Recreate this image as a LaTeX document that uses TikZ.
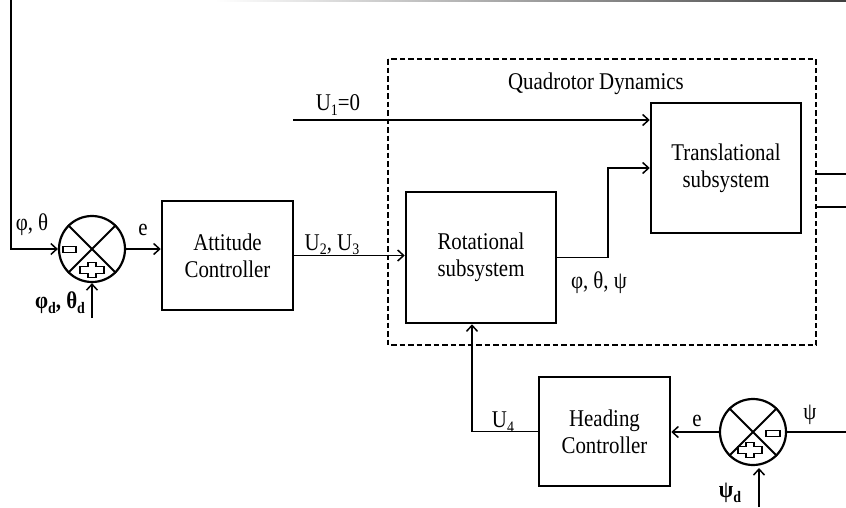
\documentclass[tikz,border=0pt]{standalone}
\usepackage{fontspec}
\setmainfont[FakeStretch=0.87]{Liberation Serif}
\usetikzlibrary{arrows.meta}
\newcommand\sbs[1]{\raisebox{-0.4ex}{\fontsize{16}{16}\selectfont #1}}
\newcommand\sbsb[1]{\raisebox{-0.4ex}{\fontsize{16}{16}\selectfont\bfseries #1}}
\begin{document}
\begin{tikzpicture}[x=1pt,y=-1pt,
  font=\fontsize{24}{27}\selectfont,
  blk/.style={draw,line width=2.5pt,rectangle,align=center,inner sep=0pt},
  sumj/.style={draw,line width=2.2pt,circle,minimum size=66pt,inner sep=0pt},
  arr/.style={line width=1.6pt,-{Straight Barb[length=6pt,width=11pt,line width=1.5pt]}},
  ln/.style={line width=1.6pt},
  sym/.style={line width=1.9pt},
  lbl/.style={inner sep=0pt}]
\useasboundingbox (0,0) rectangle (846,507);
\shade[left color=white,right color=black!75] (215,0) rectangle (846,1.6);
% dashed frame
\draw[line width=1.8pt,dash pattern=on 5.5pt off 3pt] (388,59) rectangle (816,345);
\node[lbl] (qd) at (596,84) {Quadrotor Dynamics};
% blocks
\node[sumj] (s1) at (92,249) {};
\node[blk,minimum width=131pt,minimum height=109pt] (att) at (227.5,255.5) {Attitude\\Controller};
\node[blk,minimum width=150pt,minimum height=131pt] (rot) at (481,257.5) {Rotational\\subsystem};
\node[blk,minimum width=150pt,minimum height=130pt] (tra) at (726,168) {Translational\\subsystem};
\node[blk,minimum width=131pt,minimum height=109pt] (head) at (604.5,431.5) {Heading\\Controller};
\node[sumj] (s2) at (753,432) {};
% sum junction crosses
\draw[line width=2pt] (s1.north west) -- (s1.south east) (s1.north east) -- (s1.south west);
\draw[line width=2pt] (s2.north west) -- (s2.south east) (s2.north east) -- (s2.south west);
% minus / plus signs
\draw[sym] (63,246.5) rectangle (76,252.5);
\begin{scope}[shift={(92,270)}]
\draw[sym] (-4,-7.5) -- (4,-7.5) -- (4,-3.5) -- (12,-3.5) -- (12,3.5) -- (4,3.5) -- (4,7.5) -- (-4,7.5) -- (-4,3.5) -- (-12,3.5) -- (-12,-3.5) -- (-4,-3.5) -- cycle;
\end{scope}
\draw[sym] (766,430.5) rectangle (780,436.5);
\begin{scope}[shift={(750,450)}]
\draw[sym] (-4,-7.5) -- (4,-7.5) -- (4,-3.5) -- (12,-3.5) -- (12,3.5) -- (4,3.5) -- (4,7.5) -- (-4,7.5) -- (-4,3.5) -- (-12,3.5) -- (-12,-3.5) -- (-4,-3.5) -- cycle;
\end{scope}
% coordinates
\coordinate (fbtop) at (11,0);
\coordinate (phid) at (92,318);
\coordinate (u1s) at (293,120);
\coordinate (psin) at (846,432);
\coordinate (psid) at (759,507);
\coordinate (psidt) at (759,468);
\coordinate (o1a) at (816,174);
\coordinate (o1b) at (846,174);
\coordinate (o2a) at (816,207);
\coordinate (o2b) at (846,207);
% connectors
\draw[arr] (fbtop) |- (s1.west);
\draw[arr] (phid) -- (s1.south);
\draw[arr] (s1.east) -- (s1.east -| att.west);
\draw[arr] (att.east) -- (att.east -| rot.west);
\draw[arr] (u1s) -- (u1s -| tra.west);
\draw[arr] (rot.east) -- ++(51,0) |- (tra.west);
\draw[arr] (s2.west) -- (s2.west -| head.east);
\draw[arr] (head.west) -| ([xshift=-9pt]rot.south);
\draw[ln] (psin) -- (s2.east);
\draw[arr] (psid) -- (psidt);
\draw[ln] (o1a) -- (o1b);
\draw[ln] (o2a) -- (o2b);
% labels
\node[lbl] (l1) at (32,225) {φ, θ};
\node[lbl] (l2) at (60,303) {\bfseries φ\sbsb{d}, θ\sbsb{d}};
\node[lbl] (l3) at (143,230) {e};
\node[lbl] (l4) at (332,245) {U\sbs{2}, U\sbs{3}};
\node[lbl] (l5) at (338,105) {U\sbs{1}=0};
\node[lbl] (l6) at (599,283) {φ, θ, ψ};
\node[lbl] (l7) at (503,422) {U\sbs{4}};
\node[lbl] (l8) at (697,421) {e};
\node[lbl] (l9) at (810,415) {ψ};
\node[lbl] (l10) at (730,493) {\bfseries ψ\sbsb{d}};
\end{tikzpicture}
\end{document}
